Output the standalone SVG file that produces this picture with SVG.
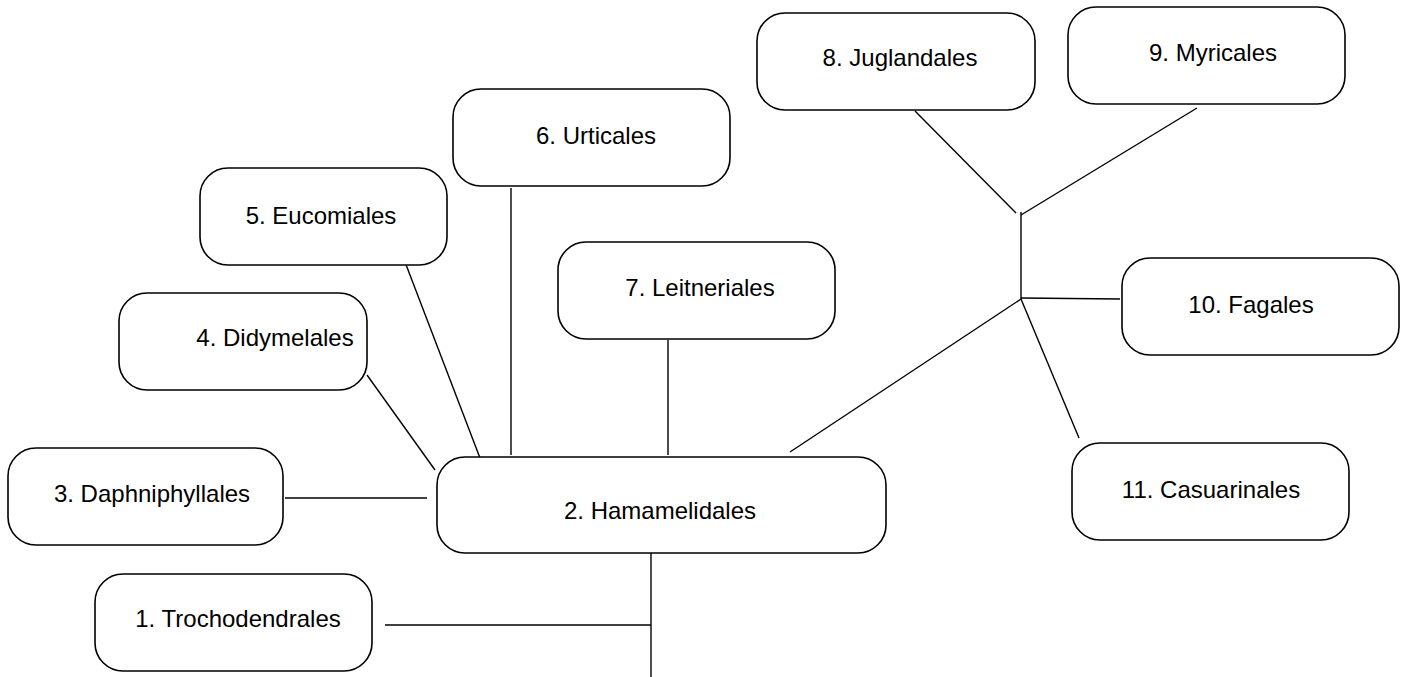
<svg xmlns="http://www.w3.org/2000/svg" width="1408" height="677" viewBox="0 0 1408 677">
<style>
.box{fill:#fff;stroke:#000;stroke-width:1.6}
.lbl{font-family:"Liberation Sans",Arial,sans-serif;font-size:24px;fill:#000;text-anchor:middle}
.conn line{stroke:#000;stroke-width:1.4}
</style>
<rect width="1408" height="677" fill="#fff"/>
<g class="conn" id="connectors">
<line x1="285" y1="498" x2="427" y2="498"/>
<line x1="385" y1="625" x2="651" y2="625"/>
<line x1="651" y1="548" x2="651" y2="677"/>
<line x1="367" y1="375" x2="435" y2="470"/>
<line x1="405" y1="262" x2="480" y2="458"/>
<line x1="511" y1="188" x2="511" y2="455"/>
<line x1="668" y1="340" x2="668" y2="455"/>
<line x1="790" y1="452" x2="1021" y2="299"/>
<line x1="1021" y1="212" x2="1021" y2="299"/>
<line x1="915" y1="111" x2="1016" y2="213"/>
<line x1="1197" y1="108" x2="1021" y2="215"/>
<line x1="1021" y1="298" x2="1120" y2="299"/>
<line x1="1021" y1="299" x2="1079" y2="438"/>
</g>
<g id="n1"><rect class="box" x="95" y="574" width="277" height="97" rx="28"/><text class="lbl" x="238" y="627">1. Trochodendrales</text></g>
<g id="n2"><rect class="box" x="437" y="457" width="449" height="96" rx="28"/><text class="lbl" x="660" y="519">2. Hamamelidales</text></g>
<g id="n3"><rect class="box" x="8" y="448" width="275" height="97" rx="28"/><text class="lbl" x="152" y="502">3. Daphniphyllales</text></g>
<g id="n4"><rect class="box" x="119" y="293" width="248" height="97" rx="28"/><text class="lbl" x="275" y="346">4. Didymelales</text></g>
<g id="n5"><rect class="box" x="200" y="168" width="247" height="97" rx="28"/><text class="lbl" x="321" y="224">5. Eucomiales</text></g>
<g id="n6"><rect class="box" x="453" y="89" width="277" height="97" rx="28"/><text class="lbl" x="596" y="144">6. Urticales</text></g>
<g id="n7"><rect class="box" x="558" y="242" width="277" height="97" rx="28"/><text class="lbl" x="700" y="296">7. Leitneriales</text></g>
<g id="n8"><rect class="box" x="757" y="13" width="278" height="97" rx="28"/><text class="lbl" x="900" y="66">8. Juglandales</text></g>
<g id="n9"><rect class="box" x="1068" y="7" width="277" height="97" rx="28"/><text class="lbl" x="1213" y="61">9. Myricales</text></g>
<g id="n10"><rect class="box" x="1122" y="258" width="277" height="97" rx="28"/><text class="lbl" x="1251" y="313">10. Fagales</text></g>
<g id="n11"><rect class="box" x="1072" y="443" width="277" height="97" rx="28"/><text class="lbl" x="1211" y="498">11. Casuarinales</text></g>
</svg>
